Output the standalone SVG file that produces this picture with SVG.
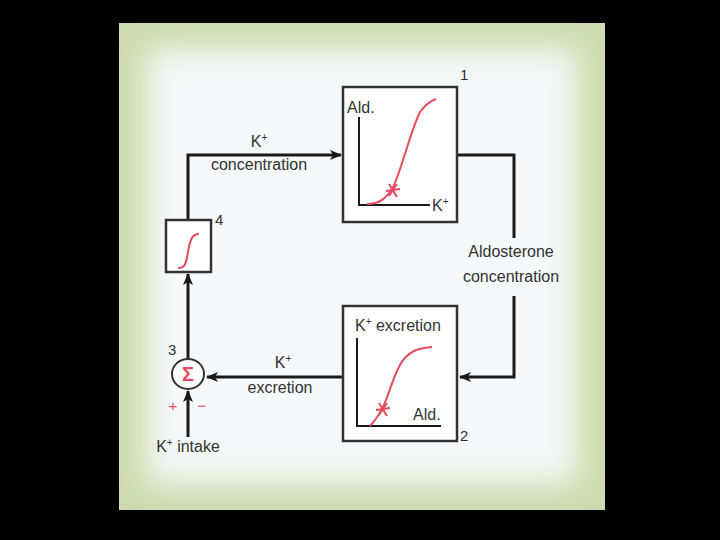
<svg xmlns="http://www.w3.org/2000/svg" width="720" height="540" viewBox="0 0 720 540">
<defs>
<filter id="blur" x="-20%" y="-20%" width="140%" height="140%"><feGaussianBlur stdDeviation="15"/></filter>
<marker id="arr" viewBox="0 0 12 10" refX="11" refY="5" markerWidth="12" markerHeight="10" markerUnits="userSpaceOnUse" orient="auto">
<path d="M0,0 L12,5 L0,10 L3,5 z" fill="#1a1a1a"/>
</marker>
<style>
text{font-family:"Liberation Sans",Arial,sans-serif;fill:#333}
.lbl{font-size:16px}
.num{font-size:15px}
.box{fill:#fff;stroke:#333;stroke-width:2.5}
.axis{fill:none;stroke:#1a1a1a;stroke-width:2}
.red{fill:none;stroke:#e64a5e;stroke-width:2}
.conn{fill:none;stroke:#1a1a1a;stroke-width:3}
.rt{fill:#e64a5e}
</style>
</defs>
<rect width="720" height="540" fill="#000"/>
<rect x="119" y="23" width="486" height="487" fill="#cddcaf"/>
<g filter="url(#blur)"><rect x="148" y="50" width="428" height="432" fill="#f5f9fb"/></g>

<g id="connectors">
<polyline class="conn" points="457,155 514,155 514,238"/>
<polyline class="conn" points="514,296 514,377 460,377" marker-end="url(#arr)"/>
<line class="conn" x1="343" y1="377" x2="207" y2="377" marker-end="url(#arr)"/>
<line class="conn" x1="188" y1="437" x2="188" y2="391" marker-end="url(#arr)"/>
<line class="conn" x1="188" y1="359" x2="188" y2="274" marker-end="url(#arr)"/>
<polyline class="conn" points="188,220 188,155 341,155" marker-end="url(#arr)"/>
<text class="lbl" x="259" y="147" text-anchor="middle">K<tspan font-size="10" dy="-6">+</tspan></text>
<text class="lbl" x="259" y="170" text-anchor="middle">concentration</text>
<text class="lbl" x="283" y="368" text-anchor="middle">K<tspan font-size="10" dy="-6">+</tspan></text>
<text class="lbl" x="280" y="393" text-anchor="middle">excretion</text>
<text class="lbl" x="511" y="257" text-anchor="middle">Aldosterone</text>
<text class="lbl" x="511" y="282" text-anchor="middle">concentration</text>
<text class="lbl" x="188" y="452" text-anchor="middle">K<tspan font-size="10" dy="-6">+</tspan><tspan dy="6"> intake</tspan></text>
</g>

<g id="node1">
<rect class="box" x="343" y="87" width="114" height="135"/>
<text class="num" x="460" y="80">1</text>
<polyline class="axis" points="359,117 359,205 430,205"/>
<text class="lbl" x="347" y="113">Ald.</text>
<text class="lbl" x="432" y="211">K<tspan font-size="10" dy="-6">+</tspan></text>
<path class="red" d="M367,204 C380,204 386,198 392,189 C400,176 410,132 420,112 C426,104 430,101 436,99"/>
<g class="red"><line x1="386" y1="191" x2="400" y2="189"/><line x1="389" y1="184" x2="397" y2="197"/><line x1="397" y1="184" x2="389" y2="196"/></g>
</g>

<g id="node2">
<rect class="box" x="343" y="306" width="114" height="135"/>
<text class="num" x="460" y="441">2</text>
<polyline class="axis" points="357,338 357,426 441,426"/>
<text class="lbl" x="355" y="331">K<tspan font-size="10" dy="-6">+</tspan><tspan dy="6"> excretion</tspan></text>
<text class="lbl" x="413" y="420">Ald.</text>
<path class="red" d="M370,426 C378,418 382,410 386,400 C392,385 396,368 404,359 C412,350 420,348 432,347"/>
<g class="red"><line x1="376" y1="410" x2="390" y2="408"/><line x1="379" y1="403" x2="387" y2="416"/><line x1="387" y1="403" x2="379" y2="415"/></g>
</g>

<g id="node3">
<ellipse cx="188" cy="374" rx="16" ry="15" fill="#fff" stroke="#333" stroke-width="2"/>
<text class="rt" x="188" y="381" text-anchor="middle" font-size="20" font-weight="bold">Σ</text>
<text class="num" x="168" y="355">3</text>
<text class="rt" x="173" y="411" text-anchor="middle" font-size="15">+</text>
<text class="rt" x="202" y="411" text-anchor="middle" font-size="15">−</text>
</g>

<g id="node4">
<rect class="box" x="166" y="220" width="45" height="52"/>
<text class="num" x="215" y="225">4</text>
<path class="red" d="M178,268 C186,268 186,262 188,252 C190,240 192,234 199,234"/>
</g>
</svg>
